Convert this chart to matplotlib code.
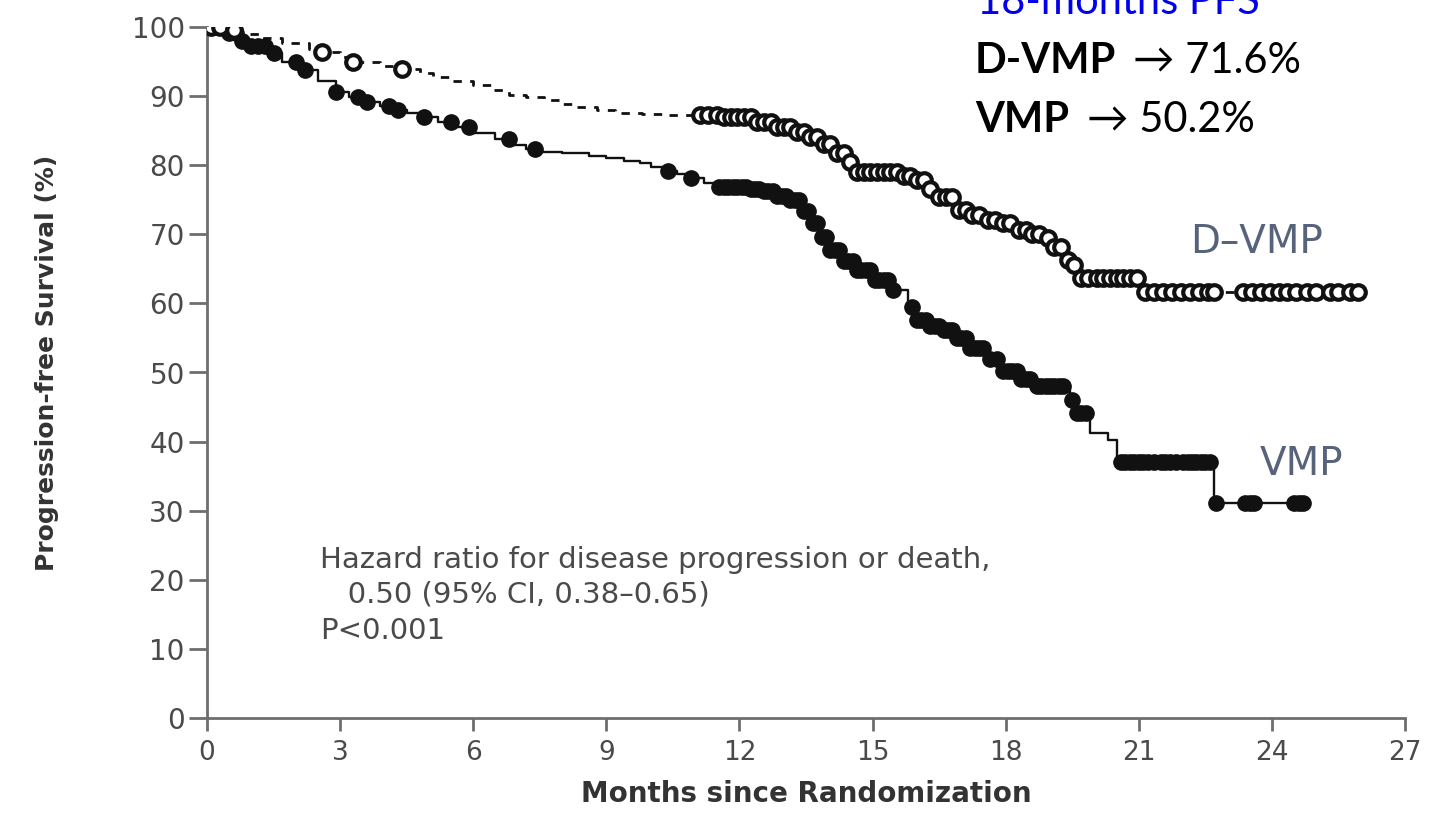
import numpy as np
import matplotlib.pyplot as plt

# Kaplan-Meier knots: month of each drop and survival (%) right after it
vmp_t = [0, 0.4, 0.7, 1.0, 1.35, 1.7, 2.1, 2.5, 2.9, 3.2, 3.5, 3.9, 4.2, 4.5, 4.85,
         5.2, 5.6, 6.0, 6.5, 6.9, 7.2, 7.55, 8.0, 8.6, 9.0, 9.4, 9.75, 10.0, 10.3,
         10.6, 10.9, 11.2, 11.5, 12.2, 12.5, 12.8, 13.1, 13.4, 13.6, 13.8, 14.0,
         14.3, 14.65, 15.0, 15.4, 15.8, 16.0, 16.3, 16.6, 16.9, 17.2, 17.6, 17.9,
         18.3, 18.6, 19.45, 19.6, 19.9, 20.3, 20.5, 22.7]
vmp_s = [100, 99.2, 98.0, 97.2, 96.2, 95.0, 93.8, 92.2, 90.6, 89.8, 89.1, 88.5, 88.0,
         87.5, 87.0, 86.2, 85.5, 84.7, 83.8, 82.9, 82.4, 81.9, 81.7, 81.3, 81.0, 80.6,
         80.3, 79.8, 79.2, 78.7, 78.1, 77.4, 76.8, 76.5, 76.2, 75.6, 75.0, 73.3, 71.6,
         69.6, 67.7, 66.2, 64.8, 63.4, 61.9, 59.5, 57.6, 56.8, 56.1, 55.0, 53.5, 52.0,
         50.2, 49.0, 48.0, 46.0, 44.1, 41.2, 40.2, 37.0, 31.1]
vmp_end = 24.8
vmp_cens = [0.1, 0.2, 0.3, 0.5, 0.65, 0.8, 1.0, 1.15, 1.3, 1.5, 2.0, 2.2, 2.9, 3.4,
            3.6, 4.1, 4.3, 4.9, 5.5, 5.9, 6.8, 7.4, 10.4, 10.9, 11.55, 11.65, 11.75,
            11.85, 11.95, 12.05, 12.15, 12.25, 12.35, 12.45, 12.55, 12.65, 12.75, 12.85,
            12.95, 13.05, 13.15, 13.25, 13.35, 13.45, 13.55, 13.65, 13.75, 13.85, 13.95,
            14.05, 14.15, 14.25, 14.35, 14.45, 14.55, 14.65, 14.75, 14.85, 14.95, 15.05,
            15.15, 15.25, 15.35, 15.45, 15.9, 16.0, 16.1, 16.2, 16.3, 16.4, 16.5, 16.6,
            16.7, 16.8, 16.9, 17.0, 17.1, 17.2, 17.3, 17.4, 17.5, 17.65, 17.8, 17.95,
            18.05, 18.15, 18.25, 18.35, 18.45, 18.55, 18.7, 18.8, 18.9, 19.0, 19.1,
            19.2, 19.3, 19.5, 19.6, 19.7, 19.8, 20.6, 20.7, 20.8, 20.9, 21.0, 21.1,
            21.2, 21.35, 21.5, 21.6, 21.7, 21.85, 22.0, 22.1, 22.2, 22.3, 22.4, 22.5,
            22.6, 22.75, 23.4, 23.5, 23.6, 24.5, 24.6, 24.7]

dvmp_t = [0, 0.5, 0.8, 1.2, 1.7, 2.3, 2.6, 3.0, 3.3, 3.9, 4.4, 4.8, 5.1, 5.5, 6.0,
          6.4, 6.8, 7.2, 7.6, 8.0, 8.3, 8.8, 9.2, 9.8, 10.4, 11.6, 12.3, 12.85, 13.2,
          13.6, 13.9, 14.2, 14.4, 14.56, 15.6, 16.0, 16.3, 16.45, 16.9, 17.2, 17.5,
          17.9, 18.25, 18.6, 18.9, 19.1, 19.3, 19.45, 19.6, 21.0]
dvmp_s = [100, 99.5, 99.0, 98.4, 97.7, 96.8, 96.4, 95.6, 94.9, 94.4, 93.9, 93.4, 92.8,
          92.2, 91.6, 90.9, 90.2, 89.8, 89.4, 88.9, 88.4, 88.0, 87.6, 87.4, 87.3, 87.0,
          86.3, 85.5, 84.8, 84.1, 83.0, 81.8, 80.5, 79.0, 78.4, 77.9, 76.5, 75.4, 73.5,
          72.8, 72.1, 71.6, 70.6, 70.0, 69.4, 68.2, 66.3, 65.5, 63.7, 61.7]
dvmp_end = 26.1
dvmp_cens = [0.1, 0.3, 0.6, 2.6, 3.3, 4.4, 11.1, 11.3, 11.5, 11.65, 11.8, 11.95, 12.1,
             12.25, 12.4, 12.55, 12.7, 12.85, 13.0, 13.15, 13.3, 13.45, 13.6, 13.75,
             13.9, 14.05, 14.2, 14.35, 14.5, 14.65, 14.8, 14.95, 15.1, 15.25, 15.4,
             15.55, 15.7, 15.85, 16.0, 16.15, 16.3, 16.5, 16.65, 16.8, 16.95, 17.1,
             17.25, 17.4, 17.6, 17.75, 17.95, 18.1, 18.3, 18.45, 18.6, 18.75, 18.95,
             19.1, 19.25, 19.4, 19.55, 19.7, 19.85, 20.05, 20.2, 20.35, 20.5, 20.65,
             20.8, 20.95, 21.15, 21.35, 21.55, 21.75, 21.95, 22.15, 22.35, 22.55, 22.7,
             23.35, 23.55, 23.75, 23.95, 24.15, 24.35, 24.55, 24.8, 25.0, 25.3, 25.5,
             25.75, 25.95]

x_ticks = [0, 3, 6, 9, 12, 15, 18, 21, 24, 27]
y_ticks = [0, 10, 20, 30, 40, 50, 60, 70, 80, 90, 100]

hazard_lines = ["Hazard ratio for disease progression or death,",
                "   0.50 (95% CI, 0.38\u20130.65)",
                "P<0.001"]

pfs_title = "18-months PFS"
pfs_arms = ["D-VMP", "VMP"]
pfs_values = [71.6, 50.2]


def surv_at(times, t_knots, s_knots):
    idx = np.searchsorted(t_knots, times, side='right') - 1
    return np.asarray(s_knots)[idx]


W, H = 1429, 821
fig = plt.figure(figsize=(W / 100, H / 100), dpi=100)
ax = fig.add_axes([207 / W, 1 - 718 / H, (1405 - 207) / W, (718 - 27) / H])

grey = '#6e6e6e'
txt_grey = '#4a4a4a'

# curves
ax.step(vmp_t + [vmp_end], vmp_s + [vmp_s[-1]], where='post', color='#111111',
        lw=1.7, zorder=3)
ax.step(dvmp_t + [dvmp_end], dvmp_s + [dvmp_s[-1]], where='post', color='#111111',
        lw=2.0, linestyle=(0, (3, 3)), zorder=3)

ax.plot(vmp_cens, surv_at(vmp_cens, vmp_t, vmp_s), 'o', ms=11, color='#111111',
        zorder=4)
ax.plot(dvmp_cens, surv_at(dvmp_cens, dvmp_t, dvmp_s), 'o', ms=10.5, mfc='white',
        mec='#111111', mew=3, zorder=4)

# axes
ax.set_xlim(0, 27)
ax.set_ylim(0, 100)
ax.set_xticks(x_ticks)
ax.set_yticks(y_ticks)
for side in ['top', 'right']:
    ax.spines[side].set_visible(False)
for side in ['left', 'bottom']:
    ax.spines[side].set_color(grey)
    ax.spines[side].set_linewidth(2)
ax.tick_params(axis='both', colors=grey, width=2, labelsize=19,
               labelcolor=txt_grey)
ax.tick_params(axis='x', length=9, pad=7)
ax.tick_params(axis='y', length=13, pad=3, labelsize=20)
for lbl in ax.get_xticklabels() + ax.get_yticklabels():
    lbl.set_family('DejaVu Sans')

ax.set_xlabel("Months since Randomization", fontsize=20, fontweight='bold',
              color='#333333', labelpad=10)
fig.text(47 / W, 1 - 363 / H, "Progression-free Survival (%)", rotation=90,
         ha='center', va='center', fontsize=18, fontweight='bold', color='#333333',
         family=['Liberation Sans Narrow', 'DejaVu Sans'])

# hazard ratio note
for line, yv in zip(hazard_lines, [22.9, 17.9, 12.6]):
    ax.text(2.55, yv, line, fontsize=21, color=txt_grey, va='center', ha='left',
            family='DejaVu Sans')

# arm labels
lab_col = '#56637a'
ax.text(22.15, 67.3, "D\u2013VMP", fontsize=28, color=lab_col, va='baseline')
ax.text(23.73, 35.2, "VMP", fontsize=28, color=lab_col, va='baseline')

# 18-month PFS summary
fam = ['Lato', 'DejaVu Sans']
fig.text(977 / W, 1 - 14 / H, pfs_title, fontsize=30, color='#0000ee',
         va='baseline', family=fam)
for arm, val, base, arr_x in zip(pfs_arms, pfs_values, [73, 132], [1133, 1087]):
    fig.text(975 / W, 1 - base / H, arm, fontsize=30, fontweight='bold',
             color='black', va='baseline', family=fam)
    fig.text(arr_x / W, 1 - base / H, f"\u2192 {val:.1f}%", fontsize=30,
             color='black', va='baseline', family=fam)

fig.savefig('out.png', dpi=100)
